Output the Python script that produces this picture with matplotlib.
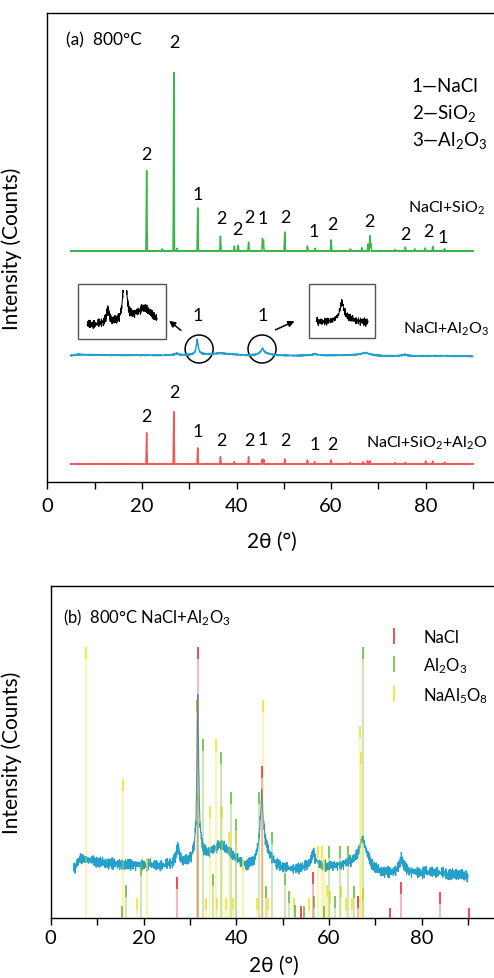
import numpy as np
import matplotlib
matplotlib.use('Agg')
import matplotlib.pyplot as plt
from matplotlib.patches import Ellipse, Rectangle
from matplotlib.lines import Line2D
from matplotlib.ticker import MultipleLocator

plt.rcParams['font.family'] = ['Lato', 'DejaVu Sans']
plt.rcParams['mathtext.fontset'] = 'custom'
plt.rcParams['mathtext.rm'] = 'Lato'
plt.rcParams['mathtext.it'] = 'Lato:italic'
plt.rcParams['axes.linewidth'] = 1.0

# ---- (a) XRD patterns, peak positions (2theta) and heights (counts, arb.)
sio2_pos = [21.0, 24.3, 26.75, 27.4, 31.8, 36.6, 39.55, 40.35, 42.55, 45.5, 45.7,
            50.2, 55.0, 56.6, 60.0, 64.1, 66.5, 67.8, 68.2, 68.4, 73.5, 75.7,
            77.7, 79.9, 81.5, 84.0]
sio2_int = [80, 2, 191, 3, 43, 15, 5, 6, 9, 13, 10,
            19, 5, 3, 11, 2, 3, 7, 15, 8, 1.5, 4,
            2, 3, 5, 2]

mix_pos = [21.0, 26.75, 31.8, 36.6, 39.5, 42.55, 45.45, 45.75, 50.2, 55.0, 56.5,
           60.0, 64.0, 66.8, 67.7, 68.2, 73.5, 75.7, 80.0, 81.5, 84.0]
mix_int = [31, 56, 16, 7.5, 2, 7.5, 5, 5, 5, 4, 2,
           4, 1.5, 2, 3, 3, 1.5, 1.5, 3, 3, 1.5]

al_bg_x = [4.9, 5.5, 6.3, 7.0, 8, 10, 12, 15, 18, 20, 22, 24, 26, 27.0, 27.4, 27.8,
           28.5, 29.5, 30.3, 30.9, 31.3, 31.55, 31.7, 31.85, 32.1, 32.5, 33, 34, 35,
           36, 36.8, 38, 39.5, 41, 42, 43, 44, 44.8, 45.2, 45.5, 45.8, 46.2, 47, 48,
           49, 50, 52, 54, 55.5, 56.2, 56.6, 57.0, 57.8, 59, 61, 63, 65, 66.3, 67.0,
           67.3, 67.7, 68.5, 69.5, 71, 73, 74.5, 75.3, 75.6, 75.9, 77, 80, 82, 84,
           86, 88, 90]
al_bg_y = [48, 53, 60, 59, 58, 56, 55, 54, 53, 53, 53, 52, 55, 62, 74, 62,
           57, 58, 62, 72, 95, 170, 219, 170, 100, 78, 68, 66, 68,
           72, 73, 68, 62, 56, 53, 55, 60, 75, 100, 129, 100, 80, 65, 58,
           54, 51, 49, 50, 54, 60, 67, 60, 54, 52, 52, 54, 58, 66, 78,
           80, 72, 60, 52, 47, 46, 48, 56, 62, 54, 47, 45, 46, 45,
           44, 43, 42]

noise_a = [0.3, -0.8, 0.5, 0.9, -0.2, -0.6, 0.7, -0.9, 0.1, 0.4, -0.5, 0.8, -0.3,
           -0.7, 0.6, 0.2, -1.0, 0.5, -0.1, 0.9, -0.4, 0.3, -0.8, 0.6, 0.0, -0.5,
           0.7, -0.2, 0.4, -0.9, 0.8, -0.6, 0.2, 0.5, -0.3, 1.0, -0.7, 0.1, -0.4,
           0.6, -0.1]
noise_b = [-0.5, 0.6, -0.2, 0.8, -0.7, 0.3, 0.1, -0.9, 0.5, -0.3, 0.7, -0.6, 0.9,
           -0.1, 0.4, -0.8, 0.2, 0.6, -0.4, 0.0, -0.7, 0.5, 0.8, -0.2, -0.5, 0.3,
           -0.9, 0.7, 0.1]

# ---- (b) reference sticks
nacl_pos = [27.3, 31.7, 45.5, 53.9, 56.5, 66.3, 73.1, 75.4, 83.9, 90.2]
nacl_int = [41, 271, 152, 12, 46, 22, 10, 36, 26, 10]
al2o3_pos = [15.4, 16.2, 19.5, 31.5, 32.8, 34.9, 36.6, 38.8, 39.9, 44.8, 46.4,
             47.6, 50.6, 51.4, 52.7, 54.6, 56.7, 58.8, 60.0, 61.3, 62.3, 64.1,
             65.4, 67.4]
al2o3_int = [12, 33, 54, 218, 179, 44, 166, 126, 99, 126, 32,
             86, 45, 27, 13, 12, 22, 12, 72, 22, 72, 72,
             32, 271]
naal_pos = [7.5, 15.5, 18.7, 20.8, 31.8, 33.5, 34.3, 35.6, 35.8, 37.0, 37.8,
            38.5, 39.2, 39.9, 41.5, 44.4, 45.8, 46.8, 52.4, 55.7, 57.7, 58.5,
            59.0, 59.5, 60.3, 62.5, 63.6, 64.9, 66.7, 66.9, 67.3]
naal_int = [271, 139, 20, 60, 126, 20, 112, 179, 20, 112, 20,
            86, 20, 86, 59, 20, 218, 20, 20, 20, 72, 72,
            59, 33, 27, 32, 20, 20, 192, 166, 30]

c_green = '#3cb54a'
c_blue = '#23a0cc'
c_red = '#f05a5a'
s_red = '#f0323c'
s_green = '#6cbf3c'
s_yellow = '#f2e31e'


def peak_trace(x, pos, inten, w=0.15):
    y = np.zeros_like(x)
    for p, h in zip(pos, inten):
        y = np.maximum(y, h * np.clip(1 - np.abs(x - p) / w, 0, None))
    return y


def noise(n):
    return np.resize(noise_a, n) + np.resize(noise_b, n)


x = np.arange(5, 90.001, 0.02)
green_y = 231 + peak_trace(x, sio2_pos, sio2_int) + 0.25 * noise(len(x))
red_y = 18 + peak_trace(x, mix_pos, mix_int) + 0.25 * noise(len(x))

xb = np.arange(4.9, 90.0, 0.05)
blue_bg = np.interp(xb, al_bg_x, al_bg_y)
blue_b = blue_bg + 3.4 * noise(len(xb))
blue_a = 127 + 0.095 * (blue_b - 55)

W, H = 494, 979
fig = plt.figure(figsize=(W / 100, H / 100), dpi=100)

# ================= panel (a)
ax1 = fig.add_axes([47.3 / W, 1 - 483 / H, 95 * 4.73 / W, 469 / H])
ax1.plot(x, green_y, color=c_green, lw=1.1)
ax1.plot(xb, blue_a, color=c_blue, lw=1.1)
ax1.plot(x, red_y, color=c_red, lw=1.1)
ax1.set_xlim(0, 95)
ax1.set_ylim(0, 469)

fs_num = 13
fs_txt = 13.5
fs_name = 11.5
green_labels = [(21.0, 328, '2'), (26.85, 440, '2'), (31.86, 288, '1'), (36.7, 264, '2'),
                (40.25, 253, '2'), (42.65, 265, '2'), (45.6, 264, '1'), (50.25, 265, '2'),
                (56.4, 251, '1'), (60.2, 258, '2'), (68.2, 261, '2'), (75.8, 248, '2'),
                (80.5, 251, '2'), (83.7, 245, '1')]
red_labels = [(21.0, 66, '2'), (26.85, 90, '2'), (31.86, 51, '1'), (36.7, 42, '2'),
              (42.65, 42, '2'), (45.6, 43, '1'), (50.4, 42, '2'), (56.6, 38, '1'),
              (60.2, 38, '2')]
for lx, ly, t in green_labels + red_labels + [(31.86, 167, '1'), (45.5, 167, '1')]:
    ax1.text(lx, ly, t, fontsize=fs_num, ha='center', va='center')

ax1.text(4.0, 443, '(a)  800°C', fontsize=12.5, va='center')
ax1.text(77.0, 396, '1—NaCl', fontsize=fs_txt, va='center')
ax1.text(77.0, 369, r'2—SiO$\mathregular{_2}$', fontsize=fs_txt, va='center')
ax1.text(77.0, 342, r'3—Al$\mathregular{_2}$O$\mathregular{_3}$', fontsize=fs_txt, va='center')
ax1.text(76.3, 275, r'NaCl+SiO$\mathregular{_2}$', fontsize=fs_name, va='center')
ax1.text(75.2, 154, r'NaCl+Al$\mathregular{_2}$O$\mathregular{_3}$', fontsize=fs_name, va='center')
ax1.text(67.4, 40, r'NaCl+SiO$\mathregular{_2}$+Al$\mathregular{_2}$O', fontsize=fs_name, va='center')

for cx in (32.1, 45.4):
    ax1.add_patch(Ellipse((cx, 133), 28 / 4.73, 28, fill=False, ec='black', lw=1.1))
ax1.annotate('', xy=(25.3, 163), xytext=(28.7, 150),
             arrowprops=dict(arrowstyle='-|>', color='black', lw=1.1, mutation_scale=9))
ax1.annotate('', xy=(52.8, 162), xytext=(47.7, 151),
             arrowprops=dict(arrowstyle='-|>', color='black', lw=1.1, mutation_scale=9))

# insets
fig.add_artist(Rectangle((78 / W, 1 - 340 / H), 88 / W, 55 / H, transform=fig.transFigure,
                         fill=False, ec='#555555', lw=1))
fig.add_artist(Rectangle((309 / W, 1 - 339 / H), 66 / W, 54 / H, transform=fig.transFigure,
                         fill=False, ec='#555555', lw=1))
in1 = fig.add_axes([78 / W, 1 - 340 / H, 88 / W, 49 / H])
m = (xb >= 22) & (xb <= 40)
in1.plot(xb[m], blue_b[m], color='black', lw=0.7)
in1.set_xlim(19.7, 42.3)
in1.set_ylim(33.8, 95.9)
in1.axis('off')
in2 = fig.add_axes([309 / W, 1 - 339 / H, 66 / W, 54 / H])
m = (xb >= 41) & (xb <= 50)
in2.plot(xb[m], blue_bg[m] + 9 * noise(m.sum()), color='black', lw=0.7)
in2.set_xlim(39.8, 51.2)
in2.set_ylim(-7, 193)
in2.axis('off')

# ================= panel (b)
ax2 = fig.add_axes([50.7 / W, 1 - 919 / H, 96 * 4.64 / W, 332 / H])
ax2.plot(xb, blue_b, color=c_blue, lw=0.8, zorder=2)
for pos, inten, col in [(naal_pos, naal_int, s_yellow), (al2o3_pos, al2o3_int, s_green),
                        (nacl_pos, nacl_int, s_red)]:
    inten = np.array(inten, dtype=float)
    ax2.vlines(pos, 0, inten, colors=col, lw=1.1, alpha=0.45, zorder=3)
    ax2.vlines(pos, np.clip(inten - 12, 0, None), inten, colors=col, lw=1.1, zorder=3)
ax2.set_xlim(0, 96)
ax2.set_ylim(0, 332)
ax2.text(2.7, 301, r'(b)  800°C NaCl+Al$\mathregular{_2}$O$\mathregular{_3}$', fontsize=12, va='center')

handles = [Line2D([], [], color=c, marker='|', ls='none', markersize=12, mew=1.2)
           for c in (s_red, s_green, s_yellow)]
ax2.legend(handles, ['NaCl', r'Al$\mathregular{_2}$O$\mathregular{_3}$',
                     r'NaAl$\mathregular{_5}$O$\mathregular{_8}$'],
           loc='upper left', bbox_to_anchor=(0.754, 0.87), frameon=False, fontsize=12,
           handlelength=0.9, handletextpad=1.3, borderpad=0, borderaxespad=0,
           labelspacing=0.6)

for ax, lp, tp in ((ax1, 12, 6), (ax2, 6, 3)):
    ax.spines['right'].set_visible(False)
    ax.set_yticks([])
    ax.xaxis.set_major_locator(MultipleLocator(20))
    ax.xaxis.set_minor_locator(MultipleLocator(10))
    ax.tick_params(axis='x', which='both', direction='out', length=5, width=1,
                   labelsize=14.5, pad=tp)
    ax.set_xlabel('2θ (°)', fontsize=15, labelpad=lp)
    ax.set_ylabel('Intensity (Counts)', fontsize=15)
ax1.yaxis.set_label_coords(-0.056, 0.5)
ax2.yaxis.set_label_coords(-0.064, 0.5)

fig.savefig('out.png', dpi=100)
